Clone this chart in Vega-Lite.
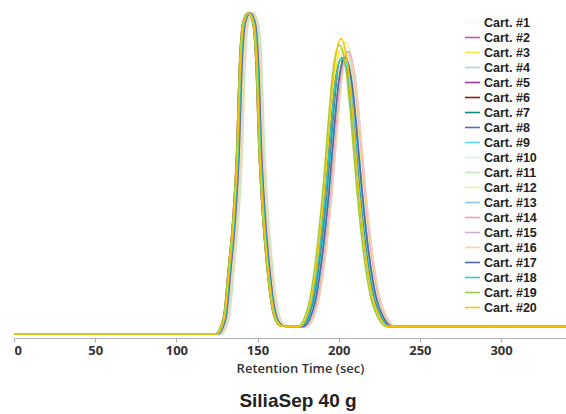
{
  "$schema": "https://vega.github.io/schema/vega-lite/v6.json",
  "width": 552,
  "height": 326,
  "autosize": {"type": "none"},
  "padding": {"left": 14, "top": 12, "right": 0, "bottom": 76},
  "background": "white",
  "title": {
    "text": "SiliaSep 40 g",
    "orient": "bottom",
    "anchor": "middle",
    "font": "Liberation Sans",
    "fontSize": 19,
    "fontWeight": "bold",
    "color": "#222222",
    "offset": 17,
    "dx": 8
  },
  "data": {"values": [
    {"s":1,"t":0,"y":0},{"s":1,"t":125,"y":0},{"s":1,"t":130,"y":5},{"s":1,"t":133,"y":20},{"s":1,"t":136,"y":37},{"s":1,"t":138,"y":55},{"s":1,"t":140,"y":85},{"s":1,"t":142,"y":97},{"s":1,"t":145,"y":100},{"s":1,"t":148,"y":97},{"s":1,"t":150,"y":85},{"s":1,"t":152,"y":56},{"s":1,"t":154,"y":38},{"s":1,"t":157,"y":20},{"s":1,"t":160,"y":8},{"s":1,"t":163,"y":3.5},{"s":1,"t":166,"y":2.4},
    {"s":1,"t":177,"y":2.3},{"s":1,"t":184,"y":9.0},{"s":1,"t":189,"y":24.9},{"s":1,"t":193,"y":44.2},{"s":1,"t":196,"y":62.6},{"s":1,"t":199,"y":78.5},{"s":1,"t":203,"y":86},{"s":1,"t":207,"y":78.5},{"s":1,"t":210,"y":64.2},{"s":1,"t":213,"y":46.7},{"s":1,"t":217,"y":27.4},{"s":1,"t":222,"y":11.5},{"s":1,"t":227,"y":4.8},{"s":1,"t":232,"y":2.3},{"s":1,"t":340,"y":2.3},

    {"s":2,"t":0,"y":0},{"s":2,"t":125,"y":0},{"s":2,"t":130,"y":5},{"s":2,"t":133,"y":20},{"s":2,"t":136,"y":37},{"s":2,"t":138,"y":55},{"s":2,"t":140,"y":85},{"s":2,"t":142,"y":97},{"s":2,"t":145,"y":100},{"s":2,"t":148,"y":97},{"s":2,"t":150,"y":85},{"s":2,"t":152,"y":56},{"s":2,"t":154,"y":38},{"s":2,"t":157,"y":20},{"s":2,"t":160,"y":8},{"s":2,"t":163,"y":3.5},{"s":2,"t":166,"y":2.4},
    {"s":2,"t":177,"y":2.3},{"s":2,"t":184,"y":9.0},{"s":2,"t":189,"y":24.9},{"s":2,"t":193,"y":44.2},{"s":2,"t":196,"y":62.6},{"s":2,"t":199,"y":78.5},{"s":2,"t":203,"y":86},{"s":2,"t":207,"y":78.5},{"s":2,"t":210,"y":64.2},{"s":2,"t":213,"y":46.7},{"s":2,"t":217,"y":27.4},{"s":2,"t":222,"y":11.5},{"s":2,"t":227,"y":4.8},{"s":2,"t":232,"y":2.3},{"s":2,"t":340,"y":2.3},

    {"s":3,"t":0,"y":0},{"s":3,"t":124.5,"y":0},{"s":3,"t":129.5,"y":5},{"s":3,"t":132.5,"y":20},{"s":3,"t":135.5,"y":37},{"s":3,"t":137.5,"y":55},{"s":3,"t":139.5,"y":85},{"s":3,"t":141.5,"y":97},{"s":3,"t":144.5,"y":100},{"s":3,"t":147.5,"y":97},{"s":3,"t":149.5,"y":85},{"s":3,"t":151.5,"y":56},{"s":3,"t":153.5,"y":38},{"s":3,"t":156.5,"y":20},{"s":3,"t":159.5,"y":8},{"s":3,"t":162.5,"y":3.5},{"s":3,"t":165.5,"y":2.4},
    {"s":3,"t":176,"y":2.3},{"s":3,"t":183,"y":9.2},{"s":3,"t":188,"y":25.7},{"s":3,"t":192,"y":45.7},{"s":3,"t":195,"y":64.7},{"s":3,"t":198,"y":81.2},{"s":3,"t":202,"y":89},{"s":3,"t":206,"y":81.2},{"s":3,"t":209,"y":66.5},{"s":3,"t":212,"y":48.3},{"s":3,"t":216,"y":28.3},{"s":3,"t":221,"y":11.8},{"s":3,"t":226,"y":4.9},{"s":3,"t":231,"y":2.3},{"s":3,"t":340,"y":2.3},

    {"s":4,"t":0,"y":0},{"s":4,"t":125.5,"y":0},{"s":4,"t":130.5,"y":5},{"s":4,"t":133.5,"y":20},{"s":4,"t":136.5,"y":37},{"s":4,"t":138.5,"y":55},{"s":4,"t":140.5,"y":85},{"s":4,"t":142.5,"y":97},{"s":4,"t":145.5,"y":100},{"s":4,"t":148.5,"y":97},{"s":4,"t":150.5,"y":85},{"s":4,"t":152.5,"y":56},{"s":4,"t":154.5,"y":38},{"s":4,"t":157.5,"y":20},{"s":4,"t":160.5,"y":8},{"s":4,"t":163.5,"y":3.5},{"s":4,"t":166.5,"y":2.4},
    {"s":4,"t":177,"y":2.3},{"s":4,"t":184,"y":8.9},{"s":4,"t":189,"y":24.6},{"s":4,"t":193,"y":43.7},{"s":4,"t":196,"y":61.8},{"s":4,"t":199,"y":77.6},{"s":4,"t":203,"y":85},{"s":4,"t":207,"y":77.6},{"s":4,"t":210,"y":63.5},{"s":4,"t":213,"y":46.1},{"s":4,"t":217,"y":27.1},{"s":4,"t":222,"y":11.4},{"s":4,"t":227,"y":4.8},{"s":4,"t":232,"y":2.3},{"s":4,"t":340,"y":2.3},

    {"s":5,"t":0,"y":0},{"s":5,"t":125,"y":0},{"s":5,"t":130,"y":5},{"s":5,"t":133,"y":20},{"s":5,"t":136,"y":37},{"s":5,"t":138,"y":55},{"s":5,"t":140,"y":85},{"s":5,"t":142,"y":97},{"s":5,"t":145,"y":100},{"s":5,"t":148,"y":97},{"s":5,"t":150,"y":85},{"s":5,"t":152,"y":56},{"s":5,"t":154,"y":38},{"s":5,"t":157,"y":20},{"s":5,"t":160,"y":8},{"s":5,"t":163,"y":3.5},{"s":5,"t":166,"y":2.4},
    {"s":5,"t":177.5,"y":2.3},{"s":5,"t":184.5,"y":9.0},{"s":5,"t":189.5,"y":24.9},{"s":5,"t":193.5,"y":44.2},{"s":5,"t":196.5,"y":62.6},{"s":5,"t":199.5,"y":78.5},{"s":5,"t":203.5,"y":86},{"s":5,"t":207.5,"y":78.5},{"s":5,"t":210.5,"y":64.2},{"s":5,"t":213.5,"y":46.7},{"s":5,"t":217.5,"y":27.4},{"s":5,"t":222.5,"y":11.5},{"s":5,"t":227.5,"y":4.8},{"s":5,"t":232.5,"y":2.3},{"s":5,"t":340,"y":2.3},

    {"s":6,"t":0,"y":0},{"s":6,"t":124,"y":0},{"s":6,"t":129,"y":5},{"s":6,"t":132,"y":20},{"s":6,"t":135,"y":37},{"s":6,"t":137,"y":55},{"s":6,"t":139,"y":85},{"s":6,"t":141,"y":97},{"s":6,"t":144,"y":100},{"s":6,"t":147,"y":97},{"s":6,"t":149,"y":85},{"s":6,"t":151,"y":56},{"s":6,"t":153,"y":38},{"s":6,"t":156,"y":20},{"s":6,"t":159,"y":8},{"s":6,"t":162,"y":3.5},{"s":6,"t":165,"y":2.4},
    {"s":6,"t":176,"y":2.3},{"s":6,"t":183,"y":9.0},{"s":6,"t":188,"y":24.9},{"s":6,"t":192,"y":44.2},{"s":6,"t":195,"y":62.6},{"s":6,"t":198,"y":78.5},{"s":6,"t":202,"y":86},{"s":6,"t":206,"y":78.5},{"s":6,"t":209,"y":64.2},{"s":6,"t":212,"y":46.7},{"s":6,"t":216,"y":27.4},{"s":6,"t":221,"y":11.5},{"s":6,"t":226,"y":4.8},{"s":6,"t":231,"y":2.3},{"s":6,"t":340,"y":2.3},

    {"s":7,"t":0,"y":0},{"s":7,"t":125,"y":0},{"s":7,"t":130,"y":5},{"s":7,"t":133,"y":20},{"s":7,"t":136,"y":37},{"s":7,"t":138,"y":55},{"s":7,"t":140,"y":85},{"s":7,"t":142,"y":97},{"s":7,"t":145,"y":100},{"s":7,"t":148,"y":97},{"s":7,"t":150,"y":85},{"s":7,"t":152,"y":56},{"s":7,"t":154,"y":38},{"s":7,"t":157,"y":20},{"s":7,"t":160,"y":8},{"s":7,"t":163,"y":3.5},{"s":7,"t":166,"y":2.4},
    {"s":7,"t":177,"y":2.3},{"s":7,"t":184,"y":8.9},{"s":7,"t":189,"y":24.6},{"s":7,"t":193,"y":43.7},{"s":7,"t":196,"y":61.8},{"s":7,"t":199,"y":77.6},{"s":7,"t":203,"y":85},{"s":7,"t":207,"y":77.6},{"s":7,"t":210,"y":63.5},{"s":7,"t":213,"y":46.1},{"s":7,"t":217,"y":27.1},{"s":7,"t":222,"y":11.4},{"s":7,"t":227,"y":4.8},{"s":7,"t":232,"y":2.3},{"s":7,"t":340,"y":2.3},

    {"s":8,"t":0,"y":0},{"s":8,"t":125.5,"y":0},{"s":8,"t":130.5,"y":5},{"s":8,"t":133.5,"y":20},{"s":8,"t":136.5,"y":37},{"s":8,"t":138.5,"y":55},{"s":8,"t":140.5,"y":85},{"s":8,"t":142.5,"y":97},{"s":8,"t":145.5,"y":100},{"s":8,"t":148.5,"y":97},{"s":8,"t":150.5,"y":85},{"s":8,"t":152.5,"y":56},{"s":8,"t":154.5,"y":38},{"s":8,"t":157.5,"y":20},{"s":8,"t":160.5,"y":8},{"s":8,"t":163.5,"y":3.5},{"s":8,"t":166.5,"y":2.4},
    {"s":8,"t":178,"y":2.3},{"s":8,"t":185,"y":9.0},{"s":8,"t":190,"y":24.9},{"s":8,"t":194,"y":44.2},{"s":8,"t":197,"y":62.6},{"s":8,"t":200,"y":78.5},{"s":8,"t":204,"y":86},{"s":8,"t":208,"y":78.5},{"s":8,"t":211,"y":64.2},{"s":8,"t":214,"y":46.7},{"s":8,"t":218,"y":27.4},{"s":8,"t":223,"y":11.5},{"s":8,"t":228,"y":4.8},{"s":8,"t":233,"y":2.3},{"s":8,"t":340,"y":2.3},

    {"s":9,"t":0,"y":0},{"s":9,"t":126,"y":0},{"s":9,"t":131,"y":5},{"s":9,"t":134,"y":20},{"s":9,"t":137,"y":37},{"s":9,"t":139,"y":55},{"s":9,"t":141,"y":85},{"s":9,"t":143,"y":97},{"s":9,"t":146,"y":100},{"s":9,"t":149,"y":97},{"s":9,"t":151,"y":85},{"s":9,"t":153,"y":56},{"s":9,"t":155,"y":38},{"s":9,"t":158,"y":20},{"s":9,"t":161,"y":8},{"s":9,"t":164,"y":3.5},{"s":9,"t":167,"y":2.4},
    {"s":9,"t":177.5,"y":2.3},{"s":9,"t":184.5,"y":8.9},{"s":9,"t":189.5,"y":24.6},{"s":9,"t":193.5,"y":43.7},{"s":9,"t":196.5,"y":61.8},{"s":9,"t":199.5,"y":77.6},{"s":9,"t":203.5,"y":85},{"s":9,"t":207.5,"y":77.6},{"s":9,"t":210.5,"y":63.5},{"s":9,"t":213.5,"y":46.1},{"s":9,"t":217.5,"y":27.1},{"s":9,"t":222.5,"y":11.4},{"s":9,"t":227.5,"y":4.8},{"s":9,"t":232.5,"y":2.3},{"s":9,"t":340,"y":2.3},

    {"s":10,"t":0,"y":0},{"s":10,"t":127,"y":0},{"s":10,"t":132,"y":5},{"s":10,"t":135,"y":20},{"s":10,"t":138,"y":37},{"s":10,"t":140,"y":55},{"s":10,"t":142,"y":85},{"s":10,"t":144,"y":97},{"s":10,"t":147,"y":100},{"s":10,"t":150,"y":97},{"s":10,"t":152,"y":85},{"s":10,"t":154,"y":56},{"s":10,"t":156,"y":38},{"s":10,"t":159,"y":20},{"s":10,"t":162,"y":8},{"s":10,"t":165,"y":3.5},{"s":10,"t":168,"y":2.4},
    {"s":10,"t":179,"y":2.3},{"s":10,"t":186,"y":9.0},{"s":10,"t":191,"y":24.9},{"s":10,"t":195,"y":44.2},{"s":10,"t":198,"y":62.6},{"s":10,"t":201,"y":78.5},{"s":10,"t":205,"y":86},{"s":10,"t":209,"y":78.5},{"s":10,"t":212,"y":64.2},{"s":10,"t":215,"y":46.7},{"s":10,"t":219,"y":27.4},{"s":10,"t":224,"y":11.5},{"s":10,"t":229,"y":4.8},{"s":10,"t":234,"y":2.3},{"s":10,"t":340,"y":2.3},

    {"s":11,"t":0,"y":0},{"s":11,"t":127.5,"y":0},{"s":11,"t":132.5,"y":5},{"s":11,"t":135.5,"y":20},{"s":11,"t":138.5,"y":37},{"s":11,"t":140.5,"y":55},{"s":11,"t":142.5,"y":85},{"s":11,"t":144.5,"y":97},{"s":11,"t":147.5,"y":100},{"s":11,"t":150.5,"y":97},{"s":11,"t":152.5,"y":85},{"s":11,"t":154.5,"y":56},{"s":11,"t":156.5,"y":38},{"s":11,"t":159.5,"y":20},{"s":11,"t":162.5,"y":8},{"s":11,"t":165.5,"y":3.5},{"s":11,"t":168.5,"y":2.4},
    {"s":11,"t":179,"y":2.3},{"s":11,"t":186,"y":9.1},{"s":11,"t":191,"y":25.2},{"s":11,"t":195,"y":44.7},{"s":11,"t":198,"y":63.3},{"s":11,"t":201,"y":79.4},{"s":11,"t":205,"y":87},{"s":11,"t":209,"y":79.4},{"s":11,"t":212,"y":65.0},{"s":11,"t":215,"y":47.2},{"s":11,"t":219,"y":27.7},{"s":11,"t":224,"y":11.6},{"s":11,"t":229,"y":4.8},{"s":11,"t":234,"y":2.3},{"s":11,"t":340,"y":2.3},

    {"s":12,"t":0,"y":0},{"s":12,"t":126,"y":0},{"s":12,"t":131,"y":5},{"s":12,"t":134,"y":20},{"s":12,"t":137,"y":37},{"s":12,"t":139,"y":55},{"s":12,"t":141,"y":85},{"s":12,"t":143,"y":97},{"s":12,"t":146,"y":100},{"s":12,"t":149,"y":97},{"s":12,"t":151,"y":85},{"s":12,"t":153,"y":56},{"s":12,"t":155,"y":38},{"s":12,"t":158,"y":20},{"s":12,"t":161,"y":8},{"s":12,"t":164,"y":3.5},{"s":12,"t":167,"y":2.4},
    {"s":12,"t":178.5,"y":2.3},{"s":12,"t":185.5,"y":9.4},{"s":12,"t":190.5,"y":26.2},{"s":12,"t":194.5,"y":46.7},{"s":12,"t":197.5,"y":66.2},{"s":12,"t":200.5,"y":83.0},{"s":12,"t":204.5,"y":91},{"s":12,"t":208.5,"y":83.0},{"s":12,"t":211.5,"y":67.9},{"s":12,"t":214.5,"y":49.3},{"s":12,"t":218.5,"y":28.9},{"s":12,"t":223.5,"y":12.1},{"s":12,"t":228.5,"y":5.0},{"s":12,"t":233.5,"y":2.3},{"s":12,"t":340,"y":2.3},

    {"s":13,"t":0,"y":0},{"s":13,"t":126,"y":0},{"s":13,"t":131,"y":5},{"s":13,"t":134,"y":20},{"s":13,"t":137,"y":37},{"s":13,"t":139,"y":55},{"s":13,"t":141,"y":85},{"s":13,"t":143,"y":97},{"s":13,"t":146,"y":100},{"s":13,"t":149,"y":97},{"s":13,"t":151,"y":85},{"s":13,"t":153,"y":56},{"s":13,"t":155,"y":38},{"s":13,"t":158,"y":20},{"s":13,"t":161,"y":8},{"s":13,"t":164,"y":3.5},{"s":13,"t":167,"y":2.4},
    {"s":13,"t":178,"y":2.3},{"s":13,"t":185,"y":9.0},{"s":13,"t":190,"y":24.9},{"s":13,"t":194,"y":44.2},{"s":13,"t":197,"y":62.6},{"s":13,"t":200,"y":78.5},{"s":13,"t":204,"y":86},{"s":13,"t":208,"y":78.5},{"s":13,"t":211,"y":64.2},{"s":13,"t":214,"y":46.7},{"s":13,"t":218,"y":27.4},{"s":13,"t":223,"y":11.5},{"s":13,"t":228,"y":4.8},{"s":13,"t":233,"y":2.3},{"s":13,"t":340,"y":2.3},

    {"s":14,"t":0,"y":0},{"s":14,"t":126,"y":0},{"s":14,"t":131,"y":5},{"s":14,"t":134,"y":20},{"s":14,"t":137,"y":37},{"s":14,"t":139,"y":55},{"s":14,"t":141,"y":85},{"s":14,"t":143,"y":97},{"s":14,"t":146,"y":100},{"s":14,"t":149,"y":97},{"s":14,"t":151,"y":85},{"s":14,"t":153,"y":56},{"s":14,"t":155,"y":38},{"s":14,"t":158,"y":20},{"s":14,"t":161,"y":8},{"s":14,"t":164,"y":3.5},{"s":14,"t":167,"y":2.4},
    {"s":14,"t":179.5,"y":2.3},{"s":14,"t":186.5,"y":9.2},{"s":14,"t":191.5,"y":25.4},{"s":14,"t":195.5,"y":45.2},{"s":14,"t":198.5,"y":64.0},{"s":14,"t":201.5,"y":80.3},{"s":14,"t":205.5,"y":88},{"s":14,"t":209.5,"y":80.3},{"s":14,"t":212.5,"y":65.7},{"s":14,"t":215.5,"y":47.7},{"s":14,"t":219.5,"y":28.0},{"s":14,"t":224.5,"y":11.7},{"s":14,"t":229.5,"y":4.9},{"s":14,"t":234.5,"y":2.3},{"s":14,"t":340,"y":2.3},

    {"s":15,"t":0,"y":0},{"s":15,"t":125.5,"y":0},{"s":15,"t":130.5,"y":5},{"s":15,"t":133.5,"y":20},{"s":15,"t":136.5,"y":37},{"s":15,"t":138.5,"y":55},{"s":15,"t":140.5,"y":85},{"s":15,"t":142.5,"y":97},{"s":15,"t":145.5,"y":100},{"s":15,"t":148.5,"y":97},{"s":15,"t":150.5,"y":85},{"s":15,"t":152.5,"y":56},{"s":15,"t":154.5,"y":38},{"s":15,"t":157.5,"y":20},{"s":15,"t":160.5,"y":8},{"s":15,"t":163.5,"y":3.5},{"s":15,"t":166.5,"y":2.4},
    {"s":15,"t":180,"y":2.3},{"s":15,"t":187,"y":9.2},{"s":15,"t":192,"y":25.4},{"s":15,"t":196,"y":45.2},{"s":15,"t":199,"y":64.0},{"s":15,"t":202,"y":80.3},{"s":15,"t":206,"y":88},{"s":15,"t":210,"y":80.3},{"s":15,"t":213,"y":65.7},{"s":15,"t":216,"y":47.7},{"s":15,"t":220,"y":28.0},{"s":15,"t":225,"y":11.7},{"s":15,"t":230,"y":4.9},{"s":15,"t":235,"y":2.3},{"s":15,"t":340,"y":2.3},

    {"s":16,"t":0,"y":0},{"s":16,"t":126.5,"y":0},{"s":16,"t":131.5,"y":5},{"s":16,"t":134.5,"y":20},{"s":16,"t":137.5,"y":37},{"s":16,"t":139.5,"y":55},{"s":16,"t":141.5,"y":85},{"s":16,"t":143.5,"y":97},{"s":16,"t":146.5,"y":100},{"s":16,"t":149.5,"y":97},{"s":16,"t":151.5,"y":85},{"s":16,"t":153.5,"y":56},{"s":16,"t":155.5,"y":38},{"s":16,"t":158.5,"y":20},{"s":16,"t":161.5,"y":8},{"s":16,"t":164.5,"y":3.5},{"s":16,"t":167.5,"y":2.4},
    {"s":16,"t":180,"y":2.3},{"s":16,"t":187,"y":9.1},{"s":16,"t":192,"y":25.2},{"s":16,"t":196,"y":44.7},{"s":16,"t":199,"y":63.3},{"s":16,"t":202,"y":79.4},{"s":16,"t":206,"y":87},{"s":16,"t":210,"y":79.4},{"s":16,"t":213,"y":65.0},{"s":16,"t":216,"y":47.2},{"s":16,"t":220,"y":27.7},{"s":16,"t":225,"y":11.6},{"s":16,"t":230,"y":4.8},{"s":16,"t":235,"y":2.3},{"s":16,"t":340,"y":2.3},

    {"s":17,"t":0,"y":0},{"s":17,"t":125.5,"y":0},{"s":17,"t":130.5,"y":5},{"s":17,"t":133.5,"y":20},{"s":17,"t":136.5,"y":37},{"s":17,"t":138.5,"y":55},{"s":17,"t":140.5,"y":85},{"s":17,"t":142.5,"y":97},{"s":17,"t":145.5,"y":100},{"s":17,"t":148.5,"y":97},{"s":17,"t":150.5,"y":85},{"s":17,"t":152.5,"y":56},{"s":17,"t":154.5,"y":38},{"s":17,"t":157.5,"y":20},{"s":17,"t":160.5,"y":8},{"s":17,"t":163.5,"y":3.5},{"s":17,"t":166.5,"y":2.4},
    {"s":17,"t":178,"y":2.3},{"s":17,"t":185,"y":9.0},{"s":17,"t":190,"y":24.9},{"s":17,"t":194,"y":44.2},{"s":17,"t":197,"y":62.6},{"s":17,"t":200,"y":78.5},{"s":17,"t":204,"y":86},{"s":17,"t":208,"y":78.5},{"s":17,"t":211,"y":64.2},{"s":17,"t":214,"y":46.7},{"s":17,"t":218,"y":27.4},{"s":17,"t":223,"y":11.5},{"s":17,"t":228,"y":4.8},{"s":17,"t":233,"y":2.3},{"s":17,"t":340,"y":2.3},

    {"s":18,"t":0,"y":0},{"s":18,"t":125,"y":0},{"s":18,"t":130,"y":5},{"s":18,"t":133,"y":20},{"s":18,"t":136,"y":37},{"s":18,"t":138,"y":55},{"s":18,"t":140,"y":85},{"s":18,"t":142,"y":97},{"s":18,"t":145,"y":100},{"s":18,"t":148,"y":97},{"s":18,"t":150,"y":85},{"s":18,"t":152,"y":56},{"s":18,"t":154,"y":38},{"s":18,"t":157,"y":20},{"s":18,"t":160,"y":8},{"s":18,"t":163,"y":3.5},{"s":18,"t":166,"y":2.4},
    {"s":18,"t":176,"y":2.3},{"s":18,"t":183,"y":9.0},{"s":18,"t":188,"y":24.9},{"s":18,"t":192,"y":44.2},{"s":18,"t":195,"y":62.6},{"s":18,"t":198,"y":78.5},{"s":18,"t":202,"y":86},{"s":18,"t":206,"y":78.5},{"s":18,"t":209,"y":64.2},{"s":18,"t":212,"y":46.7},{"s":18,"t":216,"y":27.4},{"s":18,"t":221,"y":11.5},{"s":18,"t":226,"y":4.8},{"s":18,"t":231,"y":2.3},{"s":18,"t":340,"y":2.3},

    {"s":19,"t":0,"y":0},{"s":19,"t":124,"y":0},{"s":19,"t":129,"y":5},{"s":19,"t":132,"y":20},{"s":19,"t":135,"y":37},{"s":19,"t":137,"y":55},{"s":19,"t":139,"y":85},{"s":19,"t":141,"y":97},{"s":19,"t":144,"y":100},{"s":19,"t":147,"y":97},{"s":19,"t":149,"y":85},{"s":19,"t":151,"y":56},{"s":19,"t":153,"y":38},{"s":19,"t":156,"y":20},{"s":19,"t":159,"y":8},{"s":19,"t":162,"y":3.5},{"s":19,"t":165,"y":2.4},
    {"s":19,"t":174.5,"y":2.3},{"s":19,"t":181.5,"y":9.3},{"s":19,"t":186.5,"y":26.0},{"s":19,"t":190.5,"y":46.2},{"s":19,"t":193.5,"y":65.4},{"s":19,"t":196.5,"y":82.1},{"s":19,"t":200.5,"y":90},{"s":19,"t":204.5,"y":82.1},{"s":19,"t":207.5,"y":67.2},{"s":19,"t":210.5,"y":48.8},{"s":19,"t":214.5,"y":28.6},{"s":19,"t":219.5,"y":11.9},{"s":19,"t":224.5,"y":4.9},{"s":19,"t":229.5,"y":2.3},{"s":19,"t":340,"y":2.3},

    {"s":20,"t":0,"y":0},{"s":20,"t":124.5,"y":0},{"s":20,"t":129.5,"y":5},{"s":20,"t":132.5,"y":20},{"s":20,"t":135.5,"y":37},{"s":20,"t":137.5,"y":55},{"s":20,"t":139.5,"y":85},{"s":20,"t":141.5,"y":97},{"s":20,"t":144.5,"y":100},{"s":20,"t":147.5,"y":97},{"s":20,"t":149.5,"y":85},{"s":20,"t":151.5,"y":56},{"s":20,"t":153.5,"y":38},{"s":20,"t":156.5,"y":20},{"s":20,"t":159.5,"y":8},{"s":20,"t":162.5,"y":3.5},{"s":20,"t":165.5,"y":2.4},
    {"s":20,"t":175.5,"y":2.3},{"s":20,"t":182.5,"y":9.5},{"s":20,"t":187.5,"y":26.5},{"s":20,"t":191.5,"y":47.2},{"s":20,"t":194.5,"y":66.9},{"s":20,"t":197.5,"y":83.9},{"s":20,"t":201.5,"y":92},{"s":20,"t":205.5,"y":83.9},{"s":20,"t":208.5,"y":68.7},{"s":20,"t":211.5,"y":49.8},{"s":20,"t":215.5,"y":29.2},{"s":20,"t":220.5,"y":12.2},{"s":20,"t":225.5,"y":5.0},{"s":20,"t":230.5,"y":2.3},{"s":20,"t":340,"y":2.3}
  ]},
  "mark": {"type": "line", "interpolate": "monotone", "strokeWidth": 1.6, "clip": true},
  "encoding": {
    "x": {
      "field": "t", "type": "quantitative",
      "scale": {"domain": [0, 340], "nice": false, "zero": false},
      "axis": {
        "title": "Retention Time (sec)",
        "values": [0, 50, 100, 150, 200, 250, 300],
        "grid": false,
        "domainColor": "#b0b0b0",
        "tickColor": "#b0b0b0",
        "tickSize": 4,
        "labelFont": "Open Sans",
        "labelFontSize": 13,
        "labelFontWeight": "bold",
        "labelColor": "#333333",
        "labelPadding": 2,
        "titleFont": "Open Sans",
        "titleFontSize": 13,
        "titleFontWeight": 600,
        "titleColor": "#333333",
        "titlePadding": 5,
        "titleX": 286
      }
    },
    "y": {
      "field": "y", "type": "quantitative",
      "scale": {"domain": [-1.25, 100.3], "nice": false, "zero": false},
      "axis": null
    },
    "color": {
      "field": "s", "type": "nominal",
      "scale": {
        "domain": [1,2,3,4,5,6,7,8,9,10,11,12,13,14,15,16,17,18,19,20],
        "range": ["#f4f4f4","#c94fb6","#f2ea3c","#99dde3","#9c3a94","#8b1c24","#138a80","#5a6db4","#5dd3f3","#dcf0f7","#c6eabf","#eeee9a","#8cc3ee","#f39bc3","#cbb3de","#fbd1a9","#4f68a6","#2fc7c9","#9dcb3f","#f7c600"]
      },
      "legend": {
        "title": null,
        "orient": "none",
        "legendX": 450,
        "legendY": 2,
        "padding": 0,
        "symbolType": "stroke",
        "symbolSize": 228,
        "symbolStrokeWidth": 1.6,
        "labelFont": "Liberation Sans",
        "labelFontSize": 12.5,
        "labelFontWeight": "bold",
        "labelColor": "#222222",
        "labelOffset": 3,
        "rowPadding": 0,
        "labelExpr": "'Cart. #' + datum.label"
      }
    }
  },
  "config": {
    "view": {"stroke": null}
  }
}
